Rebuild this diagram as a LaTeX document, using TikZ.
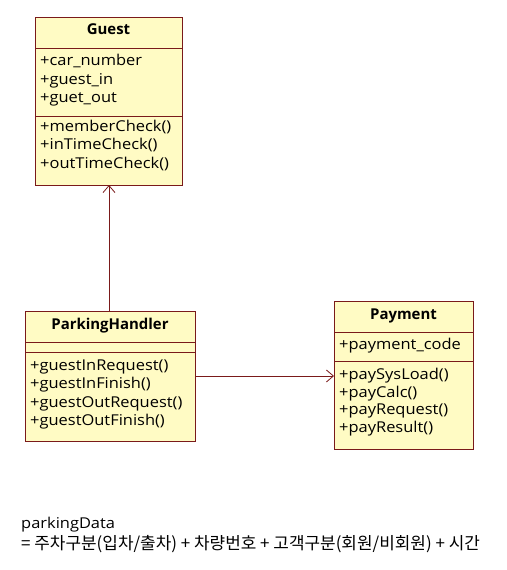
\documentclass[tikz,border=0pt]{standalone}
\usepackage{fontspec}
\setmainfont{Open Sans}[FakeStretch=1.1]
\newfontfamily\titlefont{Open Sans}[BoldFont={Open Sans Bold}]
\newfontfamily\krfont{Noto Sans CJK KR}
\usetikzlibrary{arrows.meta}
\definecolor{umlline}{HTML}{7A1A1A}
\definecolor{umlfill}{HTML}{FFFBC4}
\tikzset{
  cls/.style={draw=umlline, fill=umlfill, line width=0.9pt, inner sep=0pt, anchor=north west},
  sep/.style={draw=umlline, line width=0.9pt},
  title/.style={font=\titlefont\fontsize{15}{16}\selectfont\bfseries, inner sep=0pt, anchor=base},
  member/.style={font=\fontsize{15}{18}\selectfont, inner sep=0pt, anchor=base west},
  dep/.style={draw=umlline, line width=0.8pt, -{Straight Barb[length=7bp,width=12bp]}},
  note/.style={inner sep=0pt, anchor=base west}
}
\begin{document}
\begin{tikzpicture}[x=1bp,y=-1bp]
\useasboundingbox (0,0) rectangle (507,570);
% Guest
\node[cls, minimum width=147bp, minimum height=168bp] (guest) at (35,17) {};
\draw[sep] (35,48) -- (182,48);
\draw[sep] (35,116) -- (182,116);
\node[title] (guestT) at (108.5,35) {Guest};
\node[member] (gA1) at (40,66) {+car\_number};
\node[member] (gA2) at (40,84.5) {+guest\_in};
\node[member] (gA3) at (40,103) {+guet\_out};
\node[member] (gM1) at (40,132) {+memberCheck()};
\node[member] (gM2) at (40,150) {+inTimeCheck()};
\node[member] (gM3) at (40,168.5) {+outTimeCheck()};
% ParkingHandler
\node[cls, minimum width=170bp, minimum height=130bp] (ph) at (25,311) {};
\draw[sep] (25,342) -- (195,342);
\draw[sep] (25,352) -- (195,352);
\node[title] (phT) at (110,329) {ParkingHandler};
\node[member] (pM1) at (30,370) {+guestInRequest()};
\node[member] (pM2) at (30,388.5) {+guestInFinish()};
\node[member] (pM3) at (30,407) {+guestOutRequest()};
\node[member] (pM4) at (30,425) {+guestOutFinish()};
% Payment
\node[cls, minimum width=139bp, minimum height=148bp] (pay) at (334,301) {};
\draw[sep] (334,332) -- (473,332);
\draw[sep] (334,361) -- (473,361);
\node[title] (payT) at (403.5,319) {Payment};
\node[member] (yA1) at (339,349) {+payment\_code};
\node[member] (yM1) at (339,379) {+paySysLoad()};
\node[member] (yM2) at (339,397) {+payCalc()};
\node[member] (yM3) at (339,414.5) {+payRequest()};
\node[member] (yM4) at (339,432) {+payResult()};
% connectors
\coordinate (phTop) at (109,311);
\coordinate (guestBot) at (109,185);
\draw[dep] (phTop) -- (guestBot);
\coordinate (phRight) at (195,376);
\coordinate (payLeft) at (334,376);
\draw[dep] (phRight) -- (payLeft);
% note
\node[note, font=\fontsize{15}{18}\selectfont] (note1) at (21,528) {parkingData};
\node[note, font=\krfont\fontsize{17}{18}\selectfont] (note2) at (21,549) {= 주차구분(입차/출차) + 차량번호 + 고객구분(회원/비회원) + 시간};
\end{tikzpicture}
\end{document}
